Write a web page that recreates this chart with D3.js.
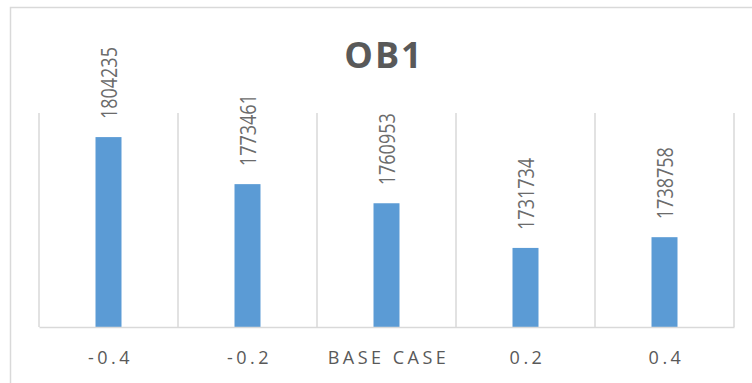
<!DOCTYPE html>
<html>
<head>
<meta charset="utf-8">
<script src="https://cdn.jsdelivr.net/npm/d3@7"></script>
<style>
  html, body { margin: 0; padding: 0; background: #fff; }
  svg { display: block; font-family: "Open Sans", "Noto Sans", sans-serif; }
</style>
</head>
<body>
<svg id="chart" width="752" height="383"></svg>
<script>
// Scenario categories and OB1 values
const categories = ["-0.4", "-0.2", "BASE CASE", "0.2", "0.4"];
const values = [1804235, 1773461, 1760953, 1731734, 1738758];
const yDomain = [1680000, 1820000];
const title = "OB1";

const svg = d3.select("#chart");
const W = 752, H = 383;
const plot = { left: 39, right: 734, top: 113, bottom: 327 };

// Outer chart frame (right and bottom edges run past the visible area)
svg.append("rect")
  .attr("x", 10.5).attr("y", 7.5)
  .attr("width", W + 20).attr("height", H + 20)
  .attr("fill", "#fff").attr("stroke", "#d9d9d9").attr("stroke-width", 1.5);

const x = d3.scaleBand().domain(categories)
  .range([plot.left, plot.right]).paddingInner(0).paddingOuter(0);
const y = d3.scaleLinear().domain(yDomain).range([plot.bottom, plot.top]);

// Vertical category separators
const edges = categories.map(c => x(c)).concat([x(categories[categories.length - 1]) + x.bandwidth()]);
svg.append("g").selectAll("line").data(edges).join("line")
  .attr("x1", d => d).attr("x2", d => d)
  .attr("y1", plot.top).attr("y2", plot.bottom)
  .attr("stroke", "#d9d9d9").attr("stroke-width", 1.5);

// Bars
const barW = x.bandwidth() * 0.187;
svg.append("g").selectAll("rect").data(values).join("rect")
  .attr("x", (d, i) => x(categories[i]) + x.bandwidth() / 2 - barW / 2)
  .attr("y", d => y(d))
  .attr("width", barW)
  .attr("height", d => plot.bottom - y(d))
  .attr("fill", "#5b9bd5");

// Category axis
const xAxis = svg.append("g")
  .attr("transform", `translate(0,${plot.bottom})`)
  .call(d3.axisBottom(x).tickSize(0).tickPadding(0));
xAxis.select(".domain").attr("stroke", "#d9d9d9").attr("stroke-width", 1.5);
xAxis.selectAll("text")
  .attr("y", 37).attr("dy", 0)
  .attr("dx", "2px")
  .attr("fill", "#595959")
  .style("font-size", "18px")
  .style("letter-spacing", "3.5px")
  .style("font-family", "'Open Sans', sans-serif");

// Value labels, rotated above each bar
svg.append("g").selectAll("text").data(values).join("text")
  .attr("transform", (d, i) =>
    `translate(${x(categories[i]) + x.bandwidth() / 2 + 1},${y(d) - 18}) rotate(-90) scale(1,1.2)`)
  .attr("dy", "0.35em")
  .attr("text-anchor", "start")
  .attr("fill", "#6b6b6b")
  .style("font-size", "18px")
  .text(d => d);

// Title
svg.append("text")
  .attr("x", 384).attr("y", 68)
  .attr("text-anchor", "middle")
  .attr("fill", "#595959")
  .style("font-size", "36px")
  .style("font-weight", "bold")
  .style("letter-spacing", "2px")
  .text(title);
</script>
</body>
</html>
